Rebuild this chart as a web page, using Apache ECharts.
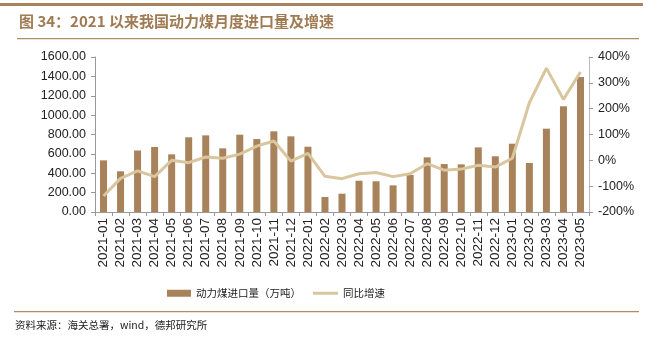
<!DOCTYPE html>
<html>
<head>
<meta charset="utf-8">
<script src="https://cdn.jsdelivr.net/npm/echarts@6/dist/echarts.min.js"></script>
<style>html,body{margin:0;padding:0;background:#fff}#c{width:660px;height:343px}</style>
</head>
<body>
<div id="c"></div>
<script>
const categories = ['2021-01','2021-02','2021-03','2021-04','2021-05','2021-06','2021-07','2021-08','2021-09','2021-10','2021-11','2021-12','2022-01','2022-02','2022-03','2022-04','2022-05','2022-06','2022-07','2022-08','2022-09','2022-10','2022-11','2022-12','2023-01','2023-02','2023-03','2023-04','2023-05'];
const importVolume = [533,420,635,671,595,771,791,657,798,753,833,781,674,155,189,323,317,275,382,564,495,492,667,575,705,506,860,1091,1393];
const yoyGrowth = [-138,-70,-41,-63,0,-9,13,8,24,55,75,-3,27,-62,-71,-52,-47,-63,-52,-13,-38,-34,-19,-26,8,223,357,236,342];
const leftTicks = {min:0,max:1600,interval:200};
const rightTicks = {min:-200,max:400,interval:100};
const titleText = '图 34：2021 以来我国动力煤月度进口量及增速';
const sourceText = '资料来源：海关总署，wind，德邦研究所';
const barName = '动力煤进口量（万吨）';
const lineName = '同比增速';

const chart = echarts.init(document.getElementById('c'), null, {renderer:'canvas'});
const cjk = '"Noto Sans CJK SC", sans-serif';
const lat = '"Liberation Sans", Arial, sans-serif';
chart.setOption({
  animation:false,
  backgroundColor:'#fff',
  grid:{left:95,right:71,top:57,bottom:131,containLabel:false},
  legend:[
    {left:162, top:283, itemWidth:24, itemHeight:7, itemGap:21,
     textStyle:{fontFamily:cjk,fontSize:10.5,color:'#222'},
     data:[{name:barName,icon:'rect'}]},
    {left:308, top:283, itemWidth:25, itemHeight:3,
     textStyle:{fontFamily:cjk,fontSize:10.5,color:'#222'},
     data:[{name:lineName,icon:'rect'}]}
  ],
  xAxis:{
    type:'category', data:categories,
    axisLine:{lineStyle:{color:'#999'}},
    axisTick:{show:true,alignWithLabel:false,length:4,lineStyle:{color:'#999'}},
    axisLabel:{rotate:90,interval:0,fontFamily:lat,fontSize:13.5,color:'#222',margin:6}
  },
  yAxis:[
    {type:'value',min:leftTicks.min,max:leftTicks.max,interval:leftTicks.interval,
     splitLine:{show:false},
     axisLine:{show:true,lineStyle:{color:'#999'}},
     axisTick:{show:true,length:4,lineStyle:{color:'#999'}},
     axisLabel:{fontFamily:lat,fontSize:12.5,color:'#222',margin:9,formatter:v=>v.toFixed(2)}},
    {type:'value',min:rightTicks.min,max:rightTicks.max,interval:rightTicks.interval,
     splitLine:{show:false},
     axisLine:{show:true,lineStyle:{color:'#bbb'}},
     axisTick:{show:true,length:4,lineStyle:{color:'#999'}},
     axisLabel:{fontFamily:lat,fontSize:12.5,color:'#222',margin:9,formatter:v=>v+'%'}}
  ],
  series:[
    {name:barName,type:'bar',data:importVolume,barWidth:7,itemStyle:{color:'#a8825a'}},
    {name:lineName,type:'line',yAxisIndex:1,data:yoyGrowth,symbol:'none',
     lineStyle:{width:3,color:'#d9c69e'},itemStyle:{color:'#d9c69e'}}
  ],
  graphic:[
    {type:'rect',shape:{x:0,y:3,width:643,height:3},style:{fill:'#a8825a'}},
    {type:'text',left:19,top:14,style:{text:titleText,font:'bold 15px "Noto Sans CJK SC", sans-serif',fill:'#a07a52'}},
    {type:'rect',shape:{x:17,y:38,width:622,height:1.2},style:{fill:'#b08c66'}},
    {type:'rect',shape:{x:14,y:311,width:625,height:1.2},style:{fill:'#b08c66'}},
    {type:'text',left:15,top:320,style:{text:sourceText,font:'10.5px "Noto Sans CJK SC", sans-serif',fill:'#222'}}
  ]
});
</script>
</body>
</html>
